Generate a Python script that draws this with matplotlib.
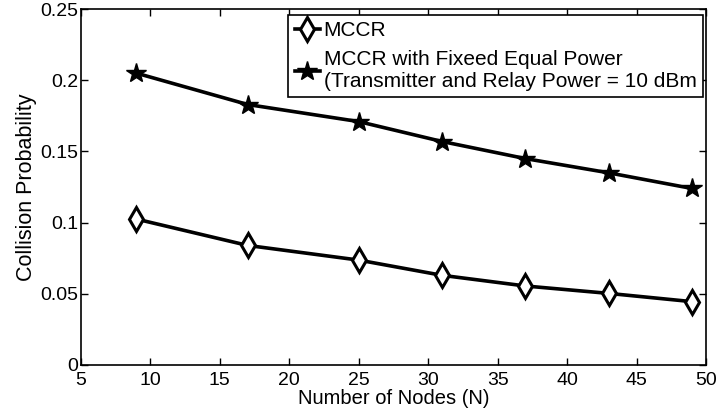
import numpy as np
import matplotlib.pyplot as plt

plt.rcParams['font.family'] = ['Liberation Sans', 'DejaVu Sans']

# data
nodes = [9, 17, 25, 31, 37, 43, 49]
mccr = [0.1025, 0.084, 0.0737, 0.063, 0.0555, 0.0503, 0.0445]
mccr_fixed = [0.205, 0.183, 0.171, 0.157, 0.145, 0.135, 0.124]

xticks = [5, 10, 15, 20, 25, 30, 35, 40, 45, 50]
yticks = [0, 0.05, 0.1, 0.15, 0.2, 0.25]
ytick_labels = ['0', '0.05', '0.1', '0.15', '0.2', '0.25']

fig = plt.figure(figsize=(7.16, 4.15), dpi=100)
ax = fig.add_axes([0.113, 0.1205, 0.873, 0.8575])

ax.plot(nodes, mccr, c='k', lw=2.6, marker='d', ms=12, mfc='white',
        mec='k', mew=2.2, label='MCCR')
ax.plot(nodes, mccr_fixed, c='k', lw=2.6, marker='*', ms=15, mfc='k',
        mec='k', label='MCCR with Fixeed Equal Power\n(Transmitter and Relay Power = 10 dBm')

ax.set_xlim(5, 50)
ax.set_ylim(0, 0.25)
ax.set_xticks(xticks)
ax.set_yticks(yticks)
ax.set_yticklabels(ytick_labels)
ax.tick_params(direction='in', top=True, right=True, labelsize=14, length=5, width=1)
ax.tick_params(axis='x', pad=5)
ax.tick_params(axis='y', pad=2)
for s in ax.spines.values():
    s.set_linewidth(1.2)

ax.set_xlabel('Number of Nodes (N)', fontsize=14.5, labelpad=0)
ax.set_ylabel('Collision Probability', fontsize=15.5, labelpad=2)

leg = ax.legend(loc='upper right', bbox_to_anchor=(0.995, 0.983), fontsize=15,
                handlelength=1.2, handletextpad=0.2, borderpad=0.3,
                labelspacing=0.45, fancybox=False, edgecolor='k', framealpha=1,
                borderaxespad=0)
leg.get_frame().set_linewidth(1.2)

fig.savefig('out.png', dpi=100)
